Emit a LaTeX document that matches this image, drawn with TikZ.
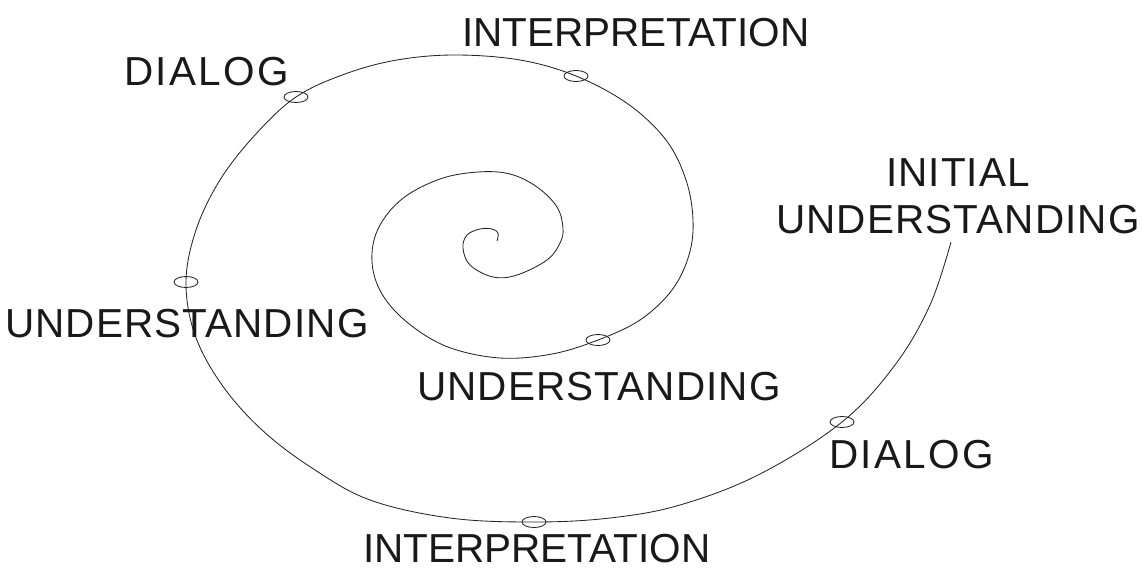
\documentclass[tikz,border=0pt]{standalone}
\usepackage{fontspec}
\setmainfont{Liberation Sans}
\usetikzlibrary{shapes.geometric}
\begin{document}
\begin{tikzpicture}[x=1pt,y=-1pt,
  spiral/.style={line width=0.85pt, black!85},
  marker/.style={ellipse, draw=black!85, line width=0.85pt, minimum width=24pt, minimum height=11pt, inner sep=0pt},
  label/.style={font=\fontsize{40.5}{47}\selectfont, inner sep=0pt, text=black!90},
  wide/.style={label, font=\fontsize{40.5}{47}\selectfont\addfontfeature{LetterSpace=2.7}},
  wider/.style={label, font=\fontsize{40.5}{47}\selectfont\addfontfeature{LetterSpace=6}}]
\useasboundingbox (0,0) rectangle (1142,570);
\draw[spiral] plot[smooth, tension=0.6] coordinates {
 (497,241) (498,233) (492,229) (480,229) (467,235) (463,248) (470,265) (493,277)
 (517,275) (547,260) (560,243) (563,228) (557,207) (537,187) (510,174) (478,172)
 (440,179) (402,199) (378,229) (372,262) (382,294) (408,323) (448,347)
 (500,358) (552,354) (598,340) (640,320) (672,290) (689,255) (693,220) (686,180)
 (666,140) (628,104) (576,76) (520,60) (455,55) (397,60) (345,74) (296,97)
 (255,135) (220,180) (196,230) (186,282) (195,335) (222,385) (262,430) (312,468)
 (370,500) (450,518) (534,522) (610,518) (680,505) (760,474) (842,422) (895,365)
 (930,305) (951,242)};
\node[marker] (m1) at (598,340) {};
\node[marker] (m2) at (576,76) {};
\node[marker] (m3) at (296,97) {};
\node[marker] (m4) at (186,282) {};
\node[marker] (m5) at (534,522) {};
\node[marker] (m6) at (842,422) {};
\node[label, anchor=base west] (interpTop) at (462,46) {INTERPRETATION};
\node[wider, anchor=base west] (dialogTop) at (124,85) {DIALOG};
\node[wide, align=center] (initial) at (958,196) {INITIAL\\UNDERSTANDING};
\node[wide, anchor=base west] (underLeft) at (5,337) {UNDERSTANDING};
\node[wide, anchor=base west] (underMid) at (417,400) {UNDERSTANDING};
\node[wider, anchor=base west] (dialogRight) at (829,468) {DIALOG};
\node[label, anchor=base west] (interpBottom) at (363,562) {INTERPRETATION};
\end{tikzpicture}
\end{document}
